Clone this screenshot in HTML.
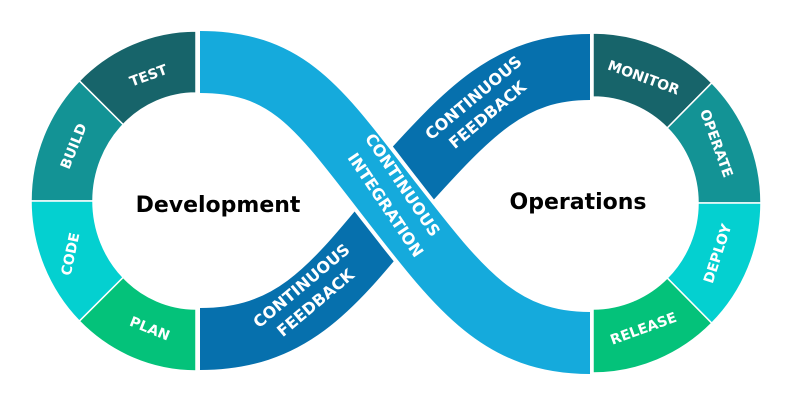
<!DOCTYPE html>
<html><head><meta charset="utf-8"><style>
html,body{margin:0;padding:0;background:#fff}
svg{display:block}
text{font-family:"DejaVu Sans","Liberation Sans",sans-serif;font-weight:bold}
</style></head><body>
<svg width="791" height="405" viewBox="0 0 791 405" xmlns="http://www.w3.org/2000/svg">
<g stroke="#fff" stroke-width="1.5">
<path d="M196,31 A165,170 0 0 0 79.3,80.8 L123.2,124.6 A103,108 0 0 1 196,93 Z" fill="#17646a"/>
<path d="M79.3,80.8 A165,170 0 0 0 31,201 L93,201 A103,108 0 0 1 123.2,124.6 Z" fill="#139395"/>
<path d="M31,201 A165,170 0 0 0 79.3,321.2 L123.2,277.4 A103,108 0 0 1 93,201 Z" fill="#04d0d0"/>
<path d="M79.3,321.2 A165,170 0 0 0 196,371 L196,309 A103,108 0 0 1 123.2,277.4 Z" fill="#04c27a"/>
<path d="M593,33 A168,170 0 0 1 711.8,82.8 L667.2,128 A105,106 0 0 0 593,97 Z" fill="#17646a"/>
<path d="M711.8,82.8 A168,170 0 0 1 761,203 L698,203 A105,106 0 0 0 667.2,128 Z" fill="#139395"/>
<path d="M761,203 A168,170 0 0 1 711.8,323.2 L667.2,278 A105,106 0 0 0 698,203 Z" fill="#04d0d0"/>
<path d="M711.8,323.2 A168,170 0 0 1 593,373 L593,309 A105,106 0 0 0 667.2,278 Z" fill="#04c27a"/>
</g>
<g fill="none">
<path d="M590,67 C510,67 470,110 398,190" stroke="#0670ad" stroke-width="66"/>
<path d="M200,339 C290,339 330,290 392,215" stroke="#0670ad" stroke-width="62"/>
<path d="M200,62 C290,62 320,110 390,200 S500,343 590,343" stroke="#fff" stroke-width="70"/>
<path d="M200,62 C290,62 320,110 390,200 S500,343 590,343" stroke="#15aadc" stroke-width="62"/>
</g>
<g fill="#fff" font-size="14" text-anchor="middle">
<text transform="translate(150,80) rotate(-20)">TEST</text>
<text transform="translate(78,148) rotate(-68)">BUILD</text>
<text transform="translate(75,255) rotate(-78)">CODE</text>
<text transform="translate(148,333) rotate(22)">PLAN</text>
<text transform="translate(642,82) rotate(20)">MONITOR</text>
<text transform="translate(712,145) rotate(70)">OPERATE</text>
<text transform="translate(722,255) rotate(-72)">DEPLOY</text>
<text transform="translate(645,333) rotate(-20)">RELEASE</text>
</g>
<g fill="#fff" font-size="16" text-anchor="middle">
<text transform="translate(398,188) rotate(56)">CONTINUOUS</text>
<text transform="translate(381,208) rotate(56)">INTEGRATION</text>
<text transform="translate(477,102) rotate(-40)">CONTINUOUS</text>
<text transform="translate(491,119) rotate(-40)">FEEDBACK</text>
<text transform="translate(305,290) rotate(-40)">CONTINUOUS</text>
<text transform="translate(319,307) rotate(-40)">FEEDBACK</text>
</g>
<text x="218" y="212" font-size="22" text-anchor="middle" fill="#000">Development</text>
<text x="578" y="209" font-size="22" text-anchor="middle" fill="#000">Operations</text>
</svg>
</body></html>
